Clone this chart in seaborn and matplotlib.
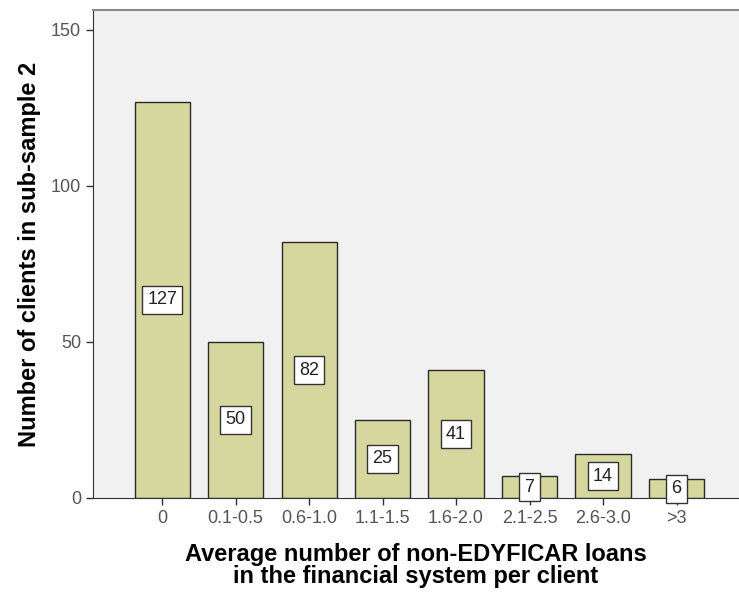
import matplotlib
matplotlib.use("Agg")
import matplotlib.pyplot as plt
import seaborn as sns
import pandas as pd

categories = ["0", "0.1-0.5", "0.6-1.0", "1.1-1.5", "1.6-2.0", "2.1-2.5", "2.6-3.0", ">3"]
counts = [127, 50, 82, 25, 41, 7, 14, 6]

sns.set_style("white")
plt.rcParams["font.family"] = ["Liberation Sans", "DejaVu Sans"]

df = pd.DataFrame({"cat": categories, "n": counts})

fig = plt.figure(figsize=(7.39, 5.92), dpi=100)
ax = fig.add_axes([93 / 739, 94 / 592, 1 - 93 / 739, (498 - 10) / 592])
ax.set_facecolor("#f1f1f1")

sns.barplot(data=df, x="cat", y="n", order=categories, color="#d5d79e",
            saturation=1, width=0.75, edgecolor="#2a2a2a", linewidth=1.0, ax=ax)

# value boxes centred at half the bar height
for i, v in enumerate(counts):
    ax.text(i, v / 2, str(v), ha="center", va="center", fontsize=13, color="#222222",
            bbox=dict(boxstyle="square,pad=0.3", fc="white", ec="#333333", lw=1.0))

ax.set_xlim(-0.94, 7.85)
ax.set_ylim(0, 156.4)
ax.set_yticks([0, 50, 100, 150])

ax.spines["right"].set_visible(False)
ax.spines["left"].set_color("#333333")
ax.spines["bottom"].set_color("#333333")
ax.spines["top"].set_color("#8a8a8a")
ax.spines["top"].set_linewidth(1.5)

ax.tick_params(axis="both", direction="out", length=5, width=1, color="#333333",
               labelsize=13, labelcolor="#555555", bottom=True, left=True)

ax.set_xlabel("Average number of non-EDYFICAR loans\nin the financial system per client",
              fontsize=17, fontweight="bold", color="black", labelpad=12, linespacing=0.9)
ax.set_ylabel("Number of clients in sub-sample 2", fontsize=17, fontweight="bold",
              color="black", labelpad=7)

fig.savefig("out.png", dpi=100, facecolor="white")
